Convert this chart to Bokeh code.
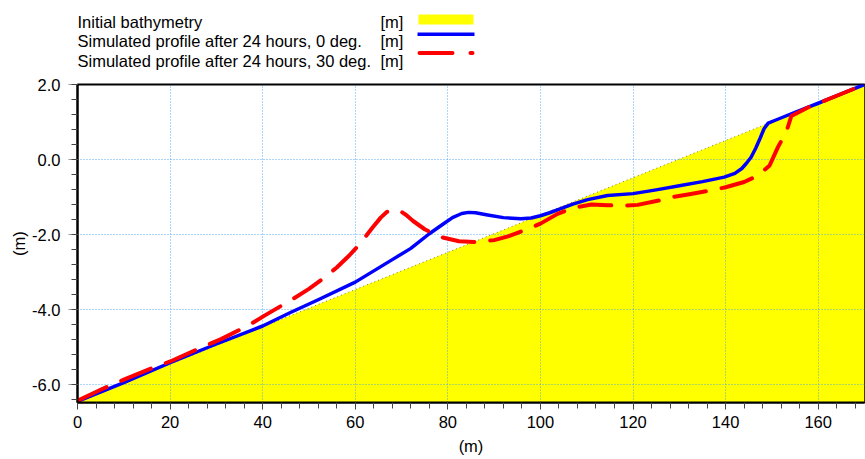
from bokeh.plotting import figure
from bokeh.layouts import column
from bokeh.models import Range1d, FixedTicker, PrintfTickFormatter
from bokeh.core.properties import value
from bokeh.embed import file_html
from bokeh.resources import INLINE

FONT = "Liberation Sans"

# ---- data ----
bathy_x = [0, 170]
bathy_y = [-6.45, 2.0]

blue_x = [0, 10, 20, 30, 40, 46, 52, 60, 64, 68, 72, 76, 79, 81, 83, 84.5, 86, 88.6, 92, 95.8,
          98, 100, 102, 104.4, 107, 110.2, 114.5, 120, 125, 130, 135, 139.7, 142, 143.5, 144.5,
          145.5, 146.5, 147.5, 148.3, 149.2, 151, 155, 160, 165, 170]
blue_y = [-6.45, -5.95, -5.42, -4.92, -4.44, -4.08, -3.74, -3.27, -2.97, -2.67, -2.37, -1.98,
          -1.72, -1.55, -1.44, -1.41, -1.42, -1.48, -1.55, -1.58, -1.56, -1.50, -1.42, -1.31,
          -1.19, -1.07, -0.96, -0.91, -0.81, -0.70, -0.59, -0.47, -0.37, -0.24, -0.10, 0.06,
          0.30, 0.58, 0.82, 0.97, 1.06, 1.26, 1.50, 1.75, 2.0]

red_x = [0, 5, 10, 16, 20.5, 27, 31, 37, 40.3, 46, 50, 53, 56, 58.7, 61, 63.7, 65.5, 66.8, 68,
         69.5, 71, 72.5, 75, 78.5, 82.4, 86, 90, 93, 96.5, 100, 103.7, 107, 111, 114.5, 118,
         121, 125.7, 128.6, 132.5, 136.5, 140, 144, 147, 149.5, 151.3, 153.1, 154.2, 158, 162,
         166, 170]
red_y = [-6.43, -6.14, -5.87, -5.57, -5.36, -5.0, -4.79, -4.42, -4.17, -3.76, -3.45, -3.18,
         -2.88, -2.56, -2.25, -1.82, -1.55, -1.40, -1.34, -1.36, -1.48, -1.64, -1.86, -2.07,
         -2.18, -2.20, -2.15, -2.05, -1.89, -1.71, -1.45, -1.29, -1.20, -1.22, -1.23, -1.21,
         -1.09, -1.00, -0.92, -0.83, -0.74, -0.60, -0.43, -0.16, 0.33, 0.73, 1.16, 1.40, 1.60,
         1.80, 2.0]

x_ticks = [0, 20, 40, 60, 80, 100, 120, 140, 160]
x_minor = [0, 4, 8, 12, 16, 20, 24, 28, 32, 36, 40, 44, 48, 52, 56, 60, 64, 68, 72, 76, 80,
           84, 88, 92, 96, 100, 104, 108, 112, 116, 120, 124, 128, 132, 136, 140, 144, 148,
           152, 156, 160, 164, 168]
y_ticks = [-6, -4, -2, 0, 2]
y_minor = [-6.4, -6.0, -5.6, -5.2, -4.8, -4.4, -4.0, -3.6, -3.2, -2.8, -2.4, -2.0, -1.6, -1.2,
           -0.8, -0.4, 0.0, 0.4, 0.8, 1.2, 1.6, 2.0]
x_range = [0, 170]
y_range = [-6.48, 2.0]

legend_labels = ["Initial bathymetry",
                 "Simulated profile after 24 hours, 0 deg.",
                 "Simulated profile after 24 hours, 30 deg."]
legend_units = ["[m]", "[m]", "[m]"]

W = 865
LH = 70
MH = 389
BL = 77   # left border (px)
BR = 1    # right border (px)

# ---- legend strip (coordinates = pixels) ----
leg = figure(width=W, height=LH, x_range=Range1d(BL, W - BR), y_range=Range1d(LH, 0),
             toolbar_location=None, output_backend="svg",
             min_border_left=BL, min_border_right=BR, min_border_top=0, min_border_bottom=0,
             x_axis_location=None, y_axis_location=None)
leg.grid.visible = False
leg.outline_line_color = None
leg.text(x=[77, 77, 77], y=[21.7, 40.7, 60.5], text=legend_labels, text_font=value(FONT),
         text_font_size="16.5px", text_baseline="alphabetic", text_color="black")
leg.text(x=[380, 380, 380], y=[21.7, 40.7, 60.5], text=legend_units, text_font=value(FONT),
         text_font_size="16.5px", text_baseline="alphabetic", text_color="black")
leg.quad(left=[418], right=[473], top=[14], bottom=[24], fill_color="#FFFF00", line_color=None)
leg.line([417, 474], [33.7, 33.7], line_color="#0000FF", line_width=3.5)
leg.line([419, 452], [52.5, 52.5], line_color="#FF0000", line_width=4, line_cap="round")
leg.line([470, 472], [52.5, 52.5], line_color="#FF0000", line_width=4, line_cap="round")

# ---- main plot ----
p = figure(width=W, height=MH, x_range=Range1d(*x_range), y_range=Range1d(*y_range),
           toolbar_location=None, output_backend="svg",
           min_border_left=BL, min_border_right=BR, min_border_top=14, min_border_bottom=57)
p.background_fill_color = "white"
p.outline_line_color = "black"
p.outline_line_width = 2

p.varea(x=bathy_x, y1=[y_range[0], y_range[0]], y2=bathy_y, fill_color="#FFFF00", level="image")
p.line(bathy_x, bathy_y, line_color="black", line_width=1, line_dash="1 3", line_alpha=0.5,
       level="image")

for g, t in ((p.xgrid, x_ticks), (p.ygrid, y_ticks)):
    g.ticker = FixedTicker(ticks=t)
    g.grid_line_color = "#3399FF"
    g.grid_line_alpha = 0.8
    g.grid_line_dash = "1 2"
    g.grid_line_width = 1

p.xaxis.ticker = FixedTicker(ticks=x_ticks, minor_ticks=x_minor)
p.yaxis.ticker = FixedTicker(ticks=y_ticks, minor_ticks=y_minor)
p.yaxis.formatter = PrintfTickFormatter(format="%.1f")

p.axis.axis_line_color = "black"
p.axis.axis_line_width = 2
p.axis.major_label_text_font = FONT
p.axis.major_label_text_font_size = "16.5px"
p.axis.major_label_text_color = "black"
p.axis.major_tick_in = 0
p.axis.minor_tick_in = 0
p.axis.axis_label = "(m)"
p.axis.axis_label_text_font = FONT
p.axis.axis_label_text_font_size = "16.5px"
p.axis.axis_label_text_font_style = "normal"
p.axis.axis_label_text_color = "black"

p.yaxis.major_tick_out = 9
p.yaxis.minor_tick_out = 6
p.yaxis.major_tick_line_color = "#999999"
p.yaxis.minor_tick_line_color = "#444444"
p.yaxis.major_label_standoff = 8
p.yaxis.axis_label_standoff = 1

p.xaxis.major_tick_out = 7
p.xaxis.minor_tick_out = 6
p.xaxis.major_tick_line_color = "#444444"
p.xaxis.minor_tick_line_color = "#444444"
p.xaxis.major_label_standoff = 6
p.xaxis.axis_label_standoff = 6

p.line(blue_x, blue_y, line_color="#0000FF", line_width=3.5, line_join="round")
p.line(red_x, red_y, line_color="#FF0000", line_width=4, line_dash="32 16", line_cap="round",
       line_join="round")

layout = column(leg, p, spacing=0)
open("out.html", "w").write(file_html(layout, INLINE))
